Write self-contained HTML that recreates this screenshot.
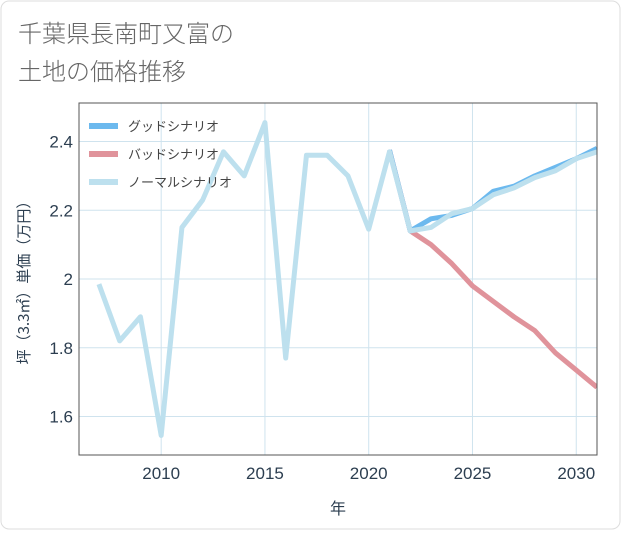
<!DOCTYPE html>
<html><head><meta charset="utf-8"><style>
body{margin:0;background:#fff;font-family:"Liberation Sans","Noto Sans CJK JP",sans-serif}
#c{position:relative;width:621px;height:530px}
</style></head><body>
<div id="c">
<svg id="s" width="621" height="530" xmlns="http://www.w3.org/2000/svg">
<rect x="1" y="1" width="619" height="528" rx="8" fill="#fff" stroke="#ddd"/>
<text x="18" y="42" font-size="24" fill="#666" font-family="Noto Sans CJK JP,sans-serif" font-weight="300">千葉県長南町又富の</text>
<text x="18" y="80" font-size="24" fill="#666" font-family="Noto Sans CJK JP,sans-serif" font-weight="300">土地の価格推移</text>
<g id="grid"></g><g id="lines"></g>
<rect x="79" y="103" width="518" height="352" fill="none" stroke="#555" stroke-width="1"/>
<g id="ticks"></g>
<text x="338" y="514" font-size="16" fill="#2c3e50" text-anchor="middle" font-family="Noto Sans CJK JP,sans-serif">年</text>
<text transform="translate(29,279) rotate(-90)" font-size="15" fill="#2c3e50" text-anchor="middle" font-family="Noto Sans CJK JP,sans-serif">坪（3.3㎡）単価（万円）</text>
<g id="legend"></g>
</svg></div>
<script>
const years=[2007,2008,2009,2010,2011,2012,2013,2014,2015,2016,2017,2018,2019,2020,2021,2022,2023,2024,2025,2026,2027,2028,2029,2030,2031];
const normal=[1.985,1.82,1.89,1.545,2.15,2.23,2.37,2.30,2.455,1.77,2.36,2.36,2.30,2.145,2.37,2.14,2.15,2.19,2.205,2.245,2.265,2.295,2.315,2.35,2.37];
const futYears=[2021,2022,2023,2024,2025,2026,2027,2028,2029,2030,2031];
const good=[2.375,2.14,2.175,2.185,2.205,2.255,2.27,2.30,2.325,2.35,2.38];
const bad=[2.375,2.14,2.10,2.045,1.98,1.935,1.89,1.85,1.785,1.735,1.685];
const xTicks=[2010,2015,2020,2025,2030];
const yTicks=[1.6,1.8,2,2.2,2.4];
const yLabels=["1.6","1.8","2","2.2","2.4"];
const X0=79,X1=597,Y0=103,Y1=455;
const xmin=2006.04,xmax=2031.0,ymin=1.488,ymax=2.512;
const xs=v=>X0+(v-xmin)/(xmax-xmin)*(X1-X0);
const ys=v=>Y1-(v-ymin)/(ymax-ymin)*(Y1-Y0);
const NS="http://www.w3.org/2000/svg";
function mk(t,a,p){const e=document.createElementNS(NS,t);for(const k in a)e.setAttribute(k,a[k]);p.appendChild(e);return e;}
const g=document.getElementById('grid'),tk=document.getElementById('ticks'),ln=document.getElementById('lines'),lg=document.getElementById('legend');
xTicks.forEach(v=>{const l=mk('line',{x1:xs(v),x2:xs(v),y1:Y0,y2:Y1,stroke:'#cfe3ee','stroke-width':1},g);


const t=mk('text',{x:xs(v),y:479,'font-size':17,fill:'#2c3e50','text-anchor':'middle'},tk);t.textContent=v;

});
yTicks.forEach((v,i)=>{const l=mk('line',{x1:X0,x2:X1,y1:ys(v),y2:ys(v),stroke:'#cfe3ee','stroke-width':1},g);


const t=mk('text',{x:73,y:ys(v)+6,'font-size':17,fill:'#2c3e50','text-anchor':'end'},tk);t.textContent=yLabels[i];

});
const cp=mk('clipPath',{id:'cp'},ln);
mk('rect',{x:X0,y:Y0,width:X1-X0,height:Y1-Y0},cp);
function line(xv,yv,col,name){const p=mk('polyline',{points:xv.map((x,i)=>xs(x)+','+ys(yv[i])).join(' '),fill:'none',stroke:col,'stroke-width':5,'stroke-linejoin':'round','clip-path':'url(#cp)'},ln);

}
line(futYears,bad,'#e0939b','bad-scenario-line');
line(futYears,good,'#6cb9ee','good-scenario-line');
line(years,normal,'#bde0ee','normal-scenario-line');
[['グッドシナリオ','#6cb9ee'],['バッドシナリオ','#e0939b'],['ノーマルシナリオ','#bde0ee']].forEach((d,i)=>{const y=126+i*28;
const r=mk('rect',{x:89,y:y-3,width:29,height:6,fill:d[1]},lg);


const t=mk('text',{x:128,y:y+5,'font-size':13,fill:'#444'},lg);t.textContent=d[0];

});
</script></body></html>
